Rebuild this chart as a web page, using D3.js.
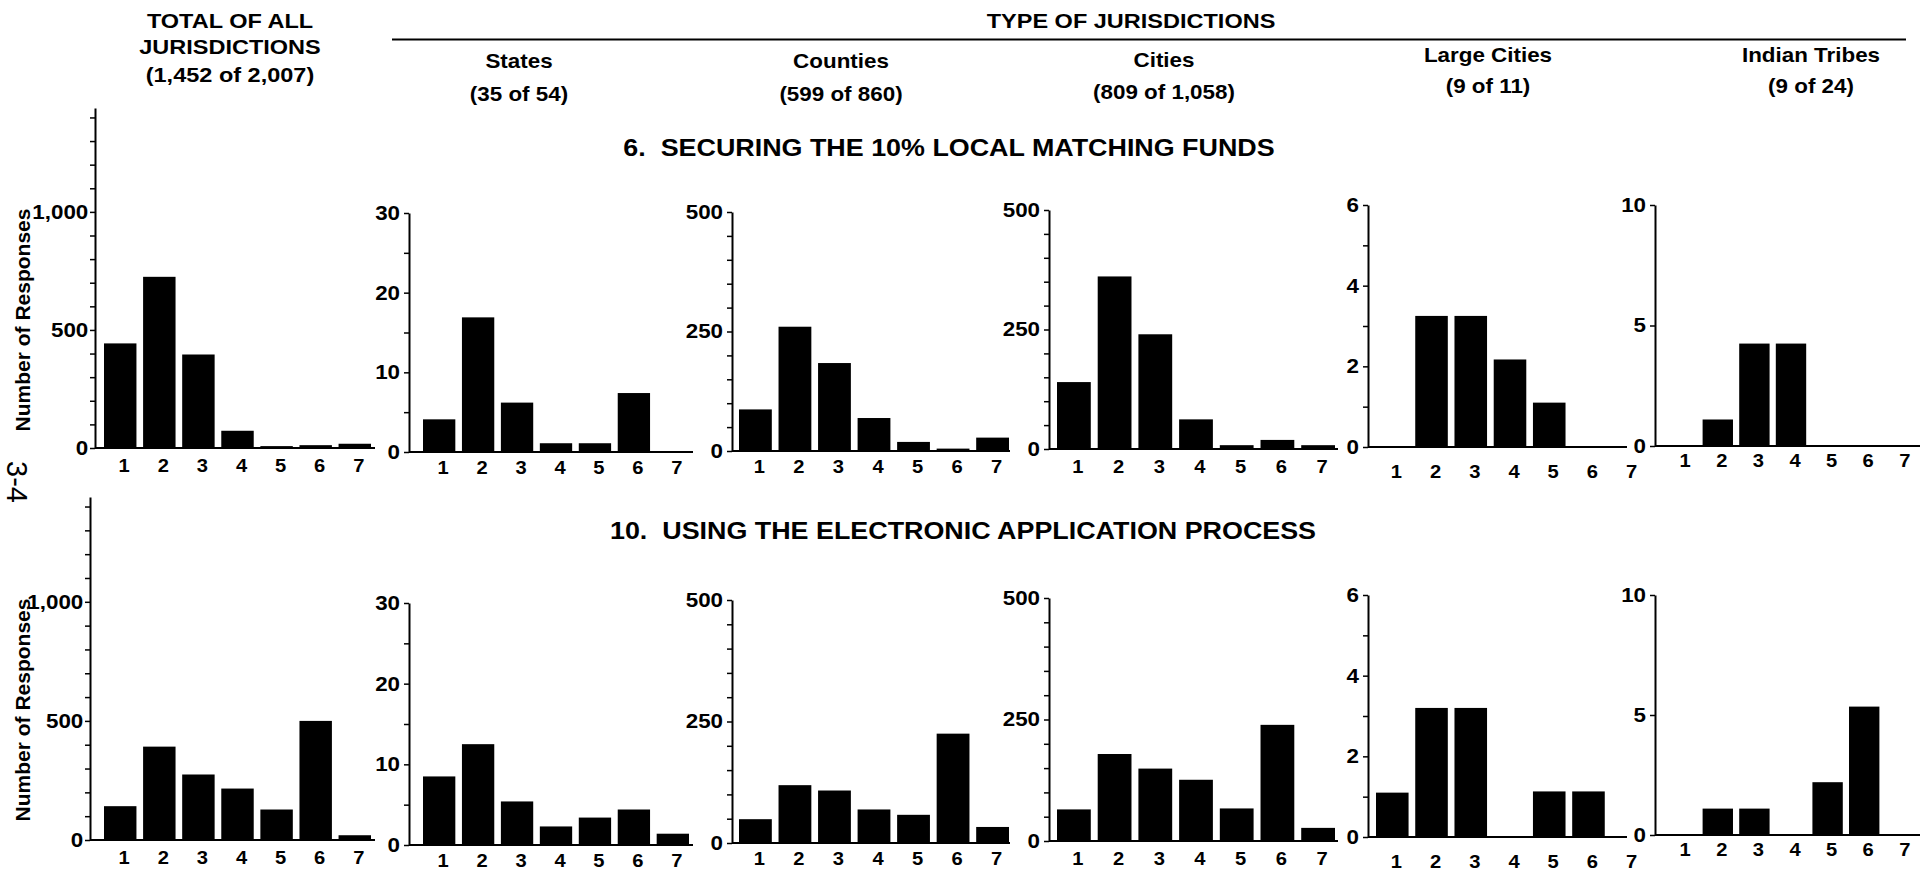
<!DOCTYPE html>
<html>
<head>
<meta charset="utf-8">
<script src="https://cdn.jsdelivr.net/npm/d3@7"></script>
<style>
  body { margin: 0; background: #fff; }
  text { font-family: "Liberation Sans", Arial, sans-serif; font-weight: bold; fill: #000; }
</style>
</head>
<body>
<svg id="chart" width="1932" height="871"></svg>
<script>
var responses = [1, 2, 3, 4, 5, 6, 7];

// 6. securing the 10% local matching funds
var totalQ6    = [443, 725, 396, 73, 8, 12, 18];
var statesQ6   = [4.1, 16.9, 6.2, 1.1, 1.1, 7.4, 0];
var countiesQ6 = [87, 260, 184, 69, 19, 5, 28];
var citiesQ6   = [140, 361, 240, 62, 8, 19, 8];
var largeQ6    = [0, 3.25, 3.25, 2.17, 1.1, 0, 0];
var tribesQ6   = [0, 1.1, 4.25, 4.25, 0, 0, 0];

// 10. using the electronic application process
var totalQ10    = [142, 392, 275, 216, 128, 500, 20];
var statesQ10   = [8.5, 12.5, 5.4, 2.3, 3.4, 4.4, 1.4];
var countiesQ10 = [49, 119, 108, 69, 58, 225, 33];
var citiesQ10   = [65, 179, 149, 126, 67, 239, 27];
var largeQ10    = [1.1, 3.2, 3.2, 0, 1.13, 1.13, 0];
var tribesQ10   = [0, 1.1, 1.1, 0, 2.2, 5.35, 0];

var totalTitle = ["TOTAL OF ALL", "JURISDICTIONS", "(1,452 of 2,007)"];
var groupNames = ["States", "Counties", "Cities", "Large Cities", "Indian Tribes"];
var groupCounts = ["(35 of 54)", "(599 of 860)", "(809 of 1,058)", "(9 of 11)", "(9 of 24)"];
var questionTitles = ["6.  SECURING THE 10% LOCAL MATCHING FUNDS", "10.  USING THE ELECTRONIC APPLICATION PROCESS"];
var yTitle = "Number of Responses";

// axis maximum / labelled step / tick step for each column
var axisMax   = [1440, 30, 500, 500, 6, 10];
var axisMajor = [500, 10, 250, 250, 2, 5];
var axisMinor = [100, 5, 50, 50, 1, 5];

// layout of the columns (pixels)
var cols = [
  {bars: [104, 371], end: 375, pad: 11},
  {bars: [423, 689], end: 693, pad: 9},
  {bars: [739, 1009], end: 1010, pad: 9},
  {bars: [1057, 1335], end: 1338, pad: 11},
  {bars: [1376, 1644], end: 1627, pad: 18},
  {bars: [1666, 1916], end: 1920, pad: 8}
];
var rows = [
  {x0: [95, 409, 732, 1049, 1368, 1655], y0: [448, 452, 451, 449, 447, 446], yTop: [108, 213, 212, 210, 205, 205],
   data: [totalQ6, statesQ6, countiesQ6, citiesQ6, largeQ6, tribesQ6], title: [949, 156], yLab: 320},
  {x0: [90, 409, 732, 1049, 1368, 1655], y0: [840, 845, 843, 841, 837, 835], yTop: [497, 603, 600, 598, 595, 595],
   data: [totalQ10, statesQ10, countiesQ10, citiesQ10, largeQ10, tribesQ10], title: [963, 539], yLab: 710}
];

var stretch = 1.12;
var svg = d3.select("#chart");

function label(x, y, str, size) {
  return svg.append("text")
    .attr("transform", "translate(" + x + "," + y + ") scale(" + stretch + ",1)")
    .attr("text-anchor", "middle")
    .style("font-size", size + "px")
    .text(str);
}

// headers
totalTitle.forEach(function (t, i) { label(230, [28, 54, 82][i], t, 21); });
label(1131, 28, "TYPE OF JURISDICTIONS", 21);
svg.append("line").attr("x1", 392).attr("x2", 1906).attr("y1", 39.5).attr("y2", 39.5)
  .attr("stroke", "#000").attr("stroke-width", 2);
var groupX = [519, 841, 1164, 1488, 1811];
var groupY = [[68, 101], [68, 101], [67, 99], [62, 93], [62, 93]];
groupNames.forEach(function (g, i) {
  label(groupX[i], groupY[i][0], g, 20);
  label(groupX[i], groupY[i][1], groupCounts[i], 20);
});

// page number
svg.append("text")
  .attr("transform", "translate(7,482) rotate(90)")
  .attr("text-anchor", "middle")
  .style("font-weight", "normal")
  .style("font-size", "29px")
  .text("3-4");

rows.forEach(function (row, r) {
  label(row.title[0], row.title[1], questionTitles[r], 24).style("white-space", "pre");

  svg.append("text")
    .attr("transform", "translate(30," + row.yLab + ") rotate(-90)")
    .attr("text-anchor", "middle")
    .style("font-size", "21px")
    .text(yTitle);

  cols.forEach(function (c, i) {
    var x0 = row.x0[i], y0 = row.y0[i];
    var y = d3.scaleLinear().domain([0, axisMax[i]]).range([y0, row.yTop[i]]);
    var x = d3.scaleBand().domain(responses).range(c.bars).paddingInner(0.17).paddingOuter(0);
    var g = svg.append("g");

    var vals = row.data[i].map(function (v, k) { return {cat: responses[k], value: v}; });
    g.selectAll("rect").data(vals.filter(function (d) { return d.value > 0; }))
      .enter().append("rect")
      .attr("x", function (d) { return x(d.cat); })
      .attr("width", x.bandwidth())
      .attr("y", function (d) { return y(d.value); })
      .attr("height", function (d) { return y0 - y(d.value); })
      .attr("fill", "#000");

    // y axis
    var major = axisMajor[i];
    var yAxis = g.append("g").attr("transform", "translate(" + x0 + ",0)")
      .call(d3.axisLeft(y)
        .tickValues(d3.range(0, axisMax[i] + 0.001, axisMinor[i]))
        .tickSize(5).tickSizeOuter(0).tickPadding(i === 0 ? 1 : 3)
        .tickFormat(function (d) { return d % major === 0 ? d3.format(",")(d) : ""; }));
    yAxis.select(".domain").attr("stroke-width", 2);
    yAxis.selectAll(".tick line").attr("stroke-width", 1.5);
    yAxis.selectAll("text")
      .attr("transform", "scale(" + stretch + ",1)")
      .style("font-size", "20px").style("font-family", null);

    // x axis
    g.append("line").attr("x1", x0).attr("x2", c.end).attr("y1", y0).attr("y2", y0)
      .attr("stroke", "#000").attr("stroke-width", 2);
    var xAxis = g.append("g").attr("transform", "translate(4," + y0 + ")")
      .call(d3.axisBottom(x).tickSize(0).tickPadding(c.pad));
    xAxis.select(".domain").remove();
    xAxis.selectAll("text")
      .attr("transform", "scale(" + stretch + ",1)")
      .style("font-size", "18px").style("font-family", null);
    xAxis.selectAll(".tick").each(function () {
      var t = d3.select(this).select("text");
      var tr = d3.select(this).attr("transform");
      var px = +tr.match(/translate\(([-\d.]+)/)[1];
      d3.select(this).attr("transform", "translate(0,0)");
      t.attr("x", px / stretch);
    });
  });
});
</script>
</body>
</html>
